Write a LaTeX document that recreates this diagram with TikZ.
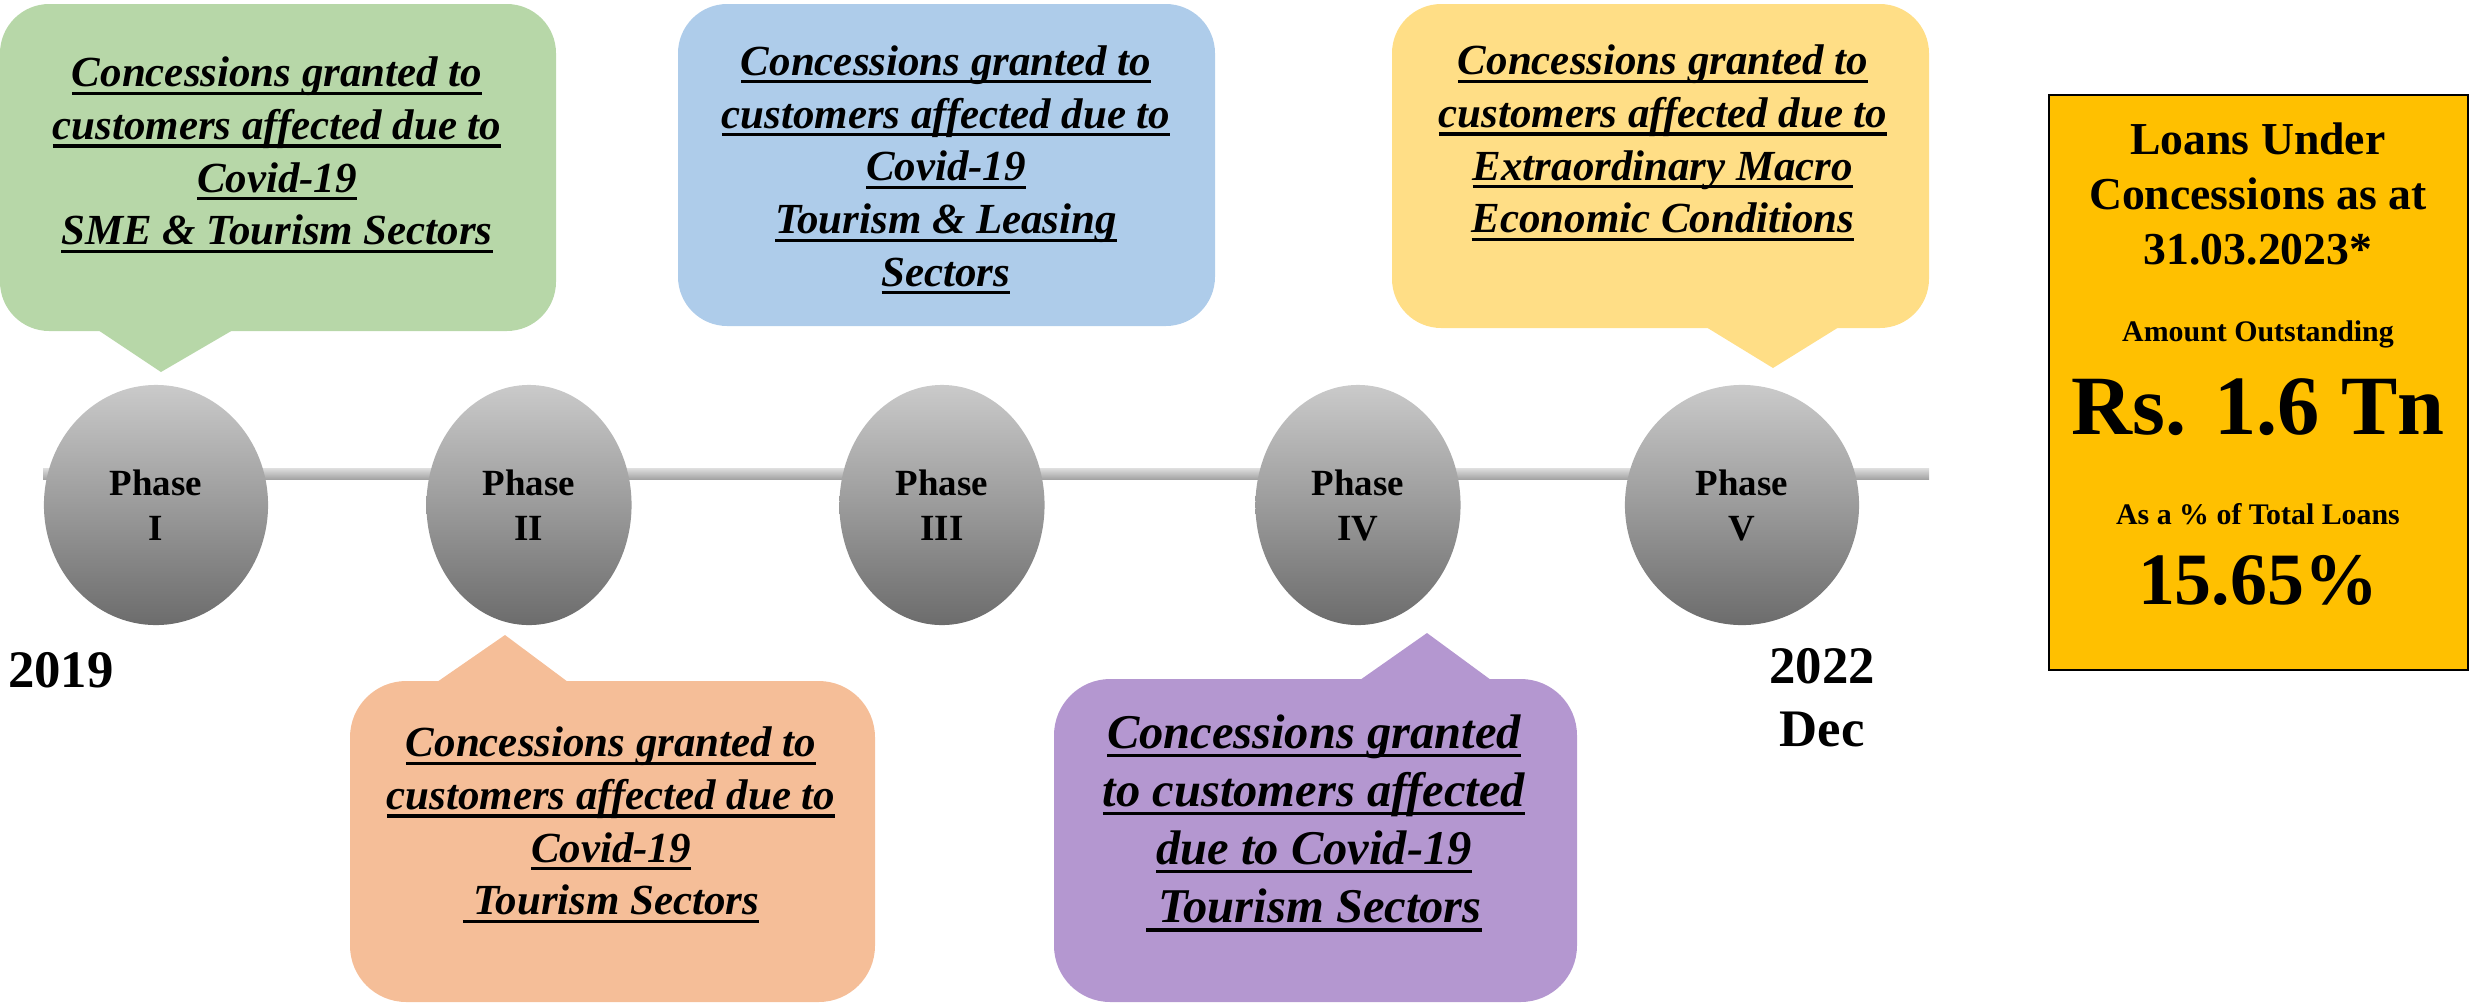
\documentclass[tikz,border=0pt]{standalone}
\usepackage{fontspec}
\setmainfont{Liberation Serif}
\usetikzlibrary{shapes.geometric}

\definecolor{bubgreen}{RGB}{183,215,168}
\definecolor{bubblue}{RGB}{174,204,234}
\definecolor{bubyellow}{RGB}{255,222,134}
\definecolor{buborange}{RGB}{245,190,152}
\definecolor{bubpurple}{RGB}{180,151,208}
\definecolor{sumfill}{RGB}{255,192,0}

\newsavebox\ulbox
\newcommand\uln[1]{\sbox\ulbox{#1}\rlap{\rule[-0.19em]{\wd\ulbox}{0.075em}}\usebox\ulbox}

\tikzset{
  phase/.style={ellipse,inner sep=0pt,minimum height=2.4cm,minimum width=2.05cm,
    top color={rgb,255:red,202;green,202;blue,202},
    bottom color={rgb,255:red,108;green,108;blue,108},
    align=center,font=\fontsize{10.5}{12.8}\selectfont\bfseries},
  calltext/.style={align=center,inner sep=0pt,font=\fontsize{12.2}{15}\selectfont\bfseries\itshape},
  year/.style={align=center,inner sep=0pt,font=\fontsize{15}{18}\selectfont\bfseries},
  sumtext/.style={align=center,inner sep=0pt}
}

\begin{document}
\begin{tikzpicture}[x=0.01cm,y=-0.01cm]
	\useasboundingbox (0,0) rectangle (2471,1002);

	% speech bubbles
	\fill[bubgreen,rounded corners=14pt] (0,4) rectangle (556,331);
	\fill[bubgreen] (98,330) -- (161,372) -- (233,330) -- cycle;
	\fill[bubblue,rounded corners=14pt] (678,4) rectangle (1215,326);
	\fill[bubyellow,rounded corners=14pt] (1392,4) rectangle (1929,328);
	\fill[bubyellow] (1706,327) -- (1773,368) -- (1839,327) -- cycle;
	\fill[buborange,rounded corners=16pt] (350,681) rectangle (875,1002);
	\fill[buborange] (437,682) -- (505,635) -- (568,682) -- cycle;
	\fill[bubpurple,rounded corners=16pt] (1054,679) rectangle (1577,1002);
	\fill[bubpurple] (1360,680) -- (1427,633) -- (1491,680) -- cycle;

	% time line
	\shade[top color=gray!25,bottom color=gray!72] (43,468) rectangle (1929,479);

	\begin{scope}[every node/.style={phase}]
		\node[minimum width=2.24cm] (p1) at (156,505) {Phase\\I};
		\node (p2) at (529,505) {Phase\\II};
		\node (p3) at (942,505) {Phase\\III};
		\node (p4) at (1358,505) {Phase\\IV};
		\node[minimum width=2.34cm] (p5) at (1742,505) {Phase\\V};
	\end{scope}

	\node[year] (y0) at (61,670) {2019};
	\node[year] (y1) at (1822,698) {2022\\Dec};

	\begin{scope}[every node/.style={calltext}]
		\node (c1) at (277,155) {\uln{Concessions granted to}\\\uln{customers affected due to}\\\uln{Covid-19}\\\uln{SME \& Tourism Sectors}};
		\node (c2) at (946,170) {\uln{Concessions granted to}\\\uln{customers affected due to}\\\uln{Covid-19}\\\uln{Tourism \& Leasing}\\\uln{Sectors}};
		\node (c3) at (1663,143) {\uln{Concessions granted to}\\\uln{customers affected due to}\\\uln{Extraordinary Macro}\\\uln{Economic Conditions}};
		\node (c4) at (611,825) {\uln{Concessions granted to}\\\uln{customers affected due to}\\\uln{Covid-19}\\\uln{\ Tourism Sectors}};
		\node[font=\fontsize{13.8}{16.5}\selectfont\bfseries\itshape] (c5) at (1314,823) {\uln{Concessions granted}\\\uln{to customers affected}\\\uln{due to Covid-19}\\\uln{\ Tourism Sectors}};
	\end{scope}

	% summary panel
	\node[draw=black,line width=0.6pt,fill=sumfill,minimum width=4.19cm,minimum height=5.75cm] (sum) at (2258.5,382.5) {};
	\node[sumtext,font=\fontsize{13}{15.7}\selectfont\bfseries] (s1) at (2258,194) {Loans Under\\Concessions as at\\31.03.2023*};
	\node[sumtext,font=\fontsize{8.5}{10}\selectfont\bfseries] (s2) at (2258,334) {Amount Outstanding};
	\node[sumtext,font=\fontsize{24}{28}\selectfont\bfseries] (s3) at (2258,407) {Rs. 1.6 Tn};
	\node[sumtext,font=\fontsize{8.5}{10}\selectfont\bfseries] (s4) at (2258,514) {As a \% of Total Loans};
	\node[sumtext,font=\fontsize{21}{25}\selectfont\bfseries] (s5) at (2258,580) {15.65\%};
\end{tikzpicture}
\end{document}
